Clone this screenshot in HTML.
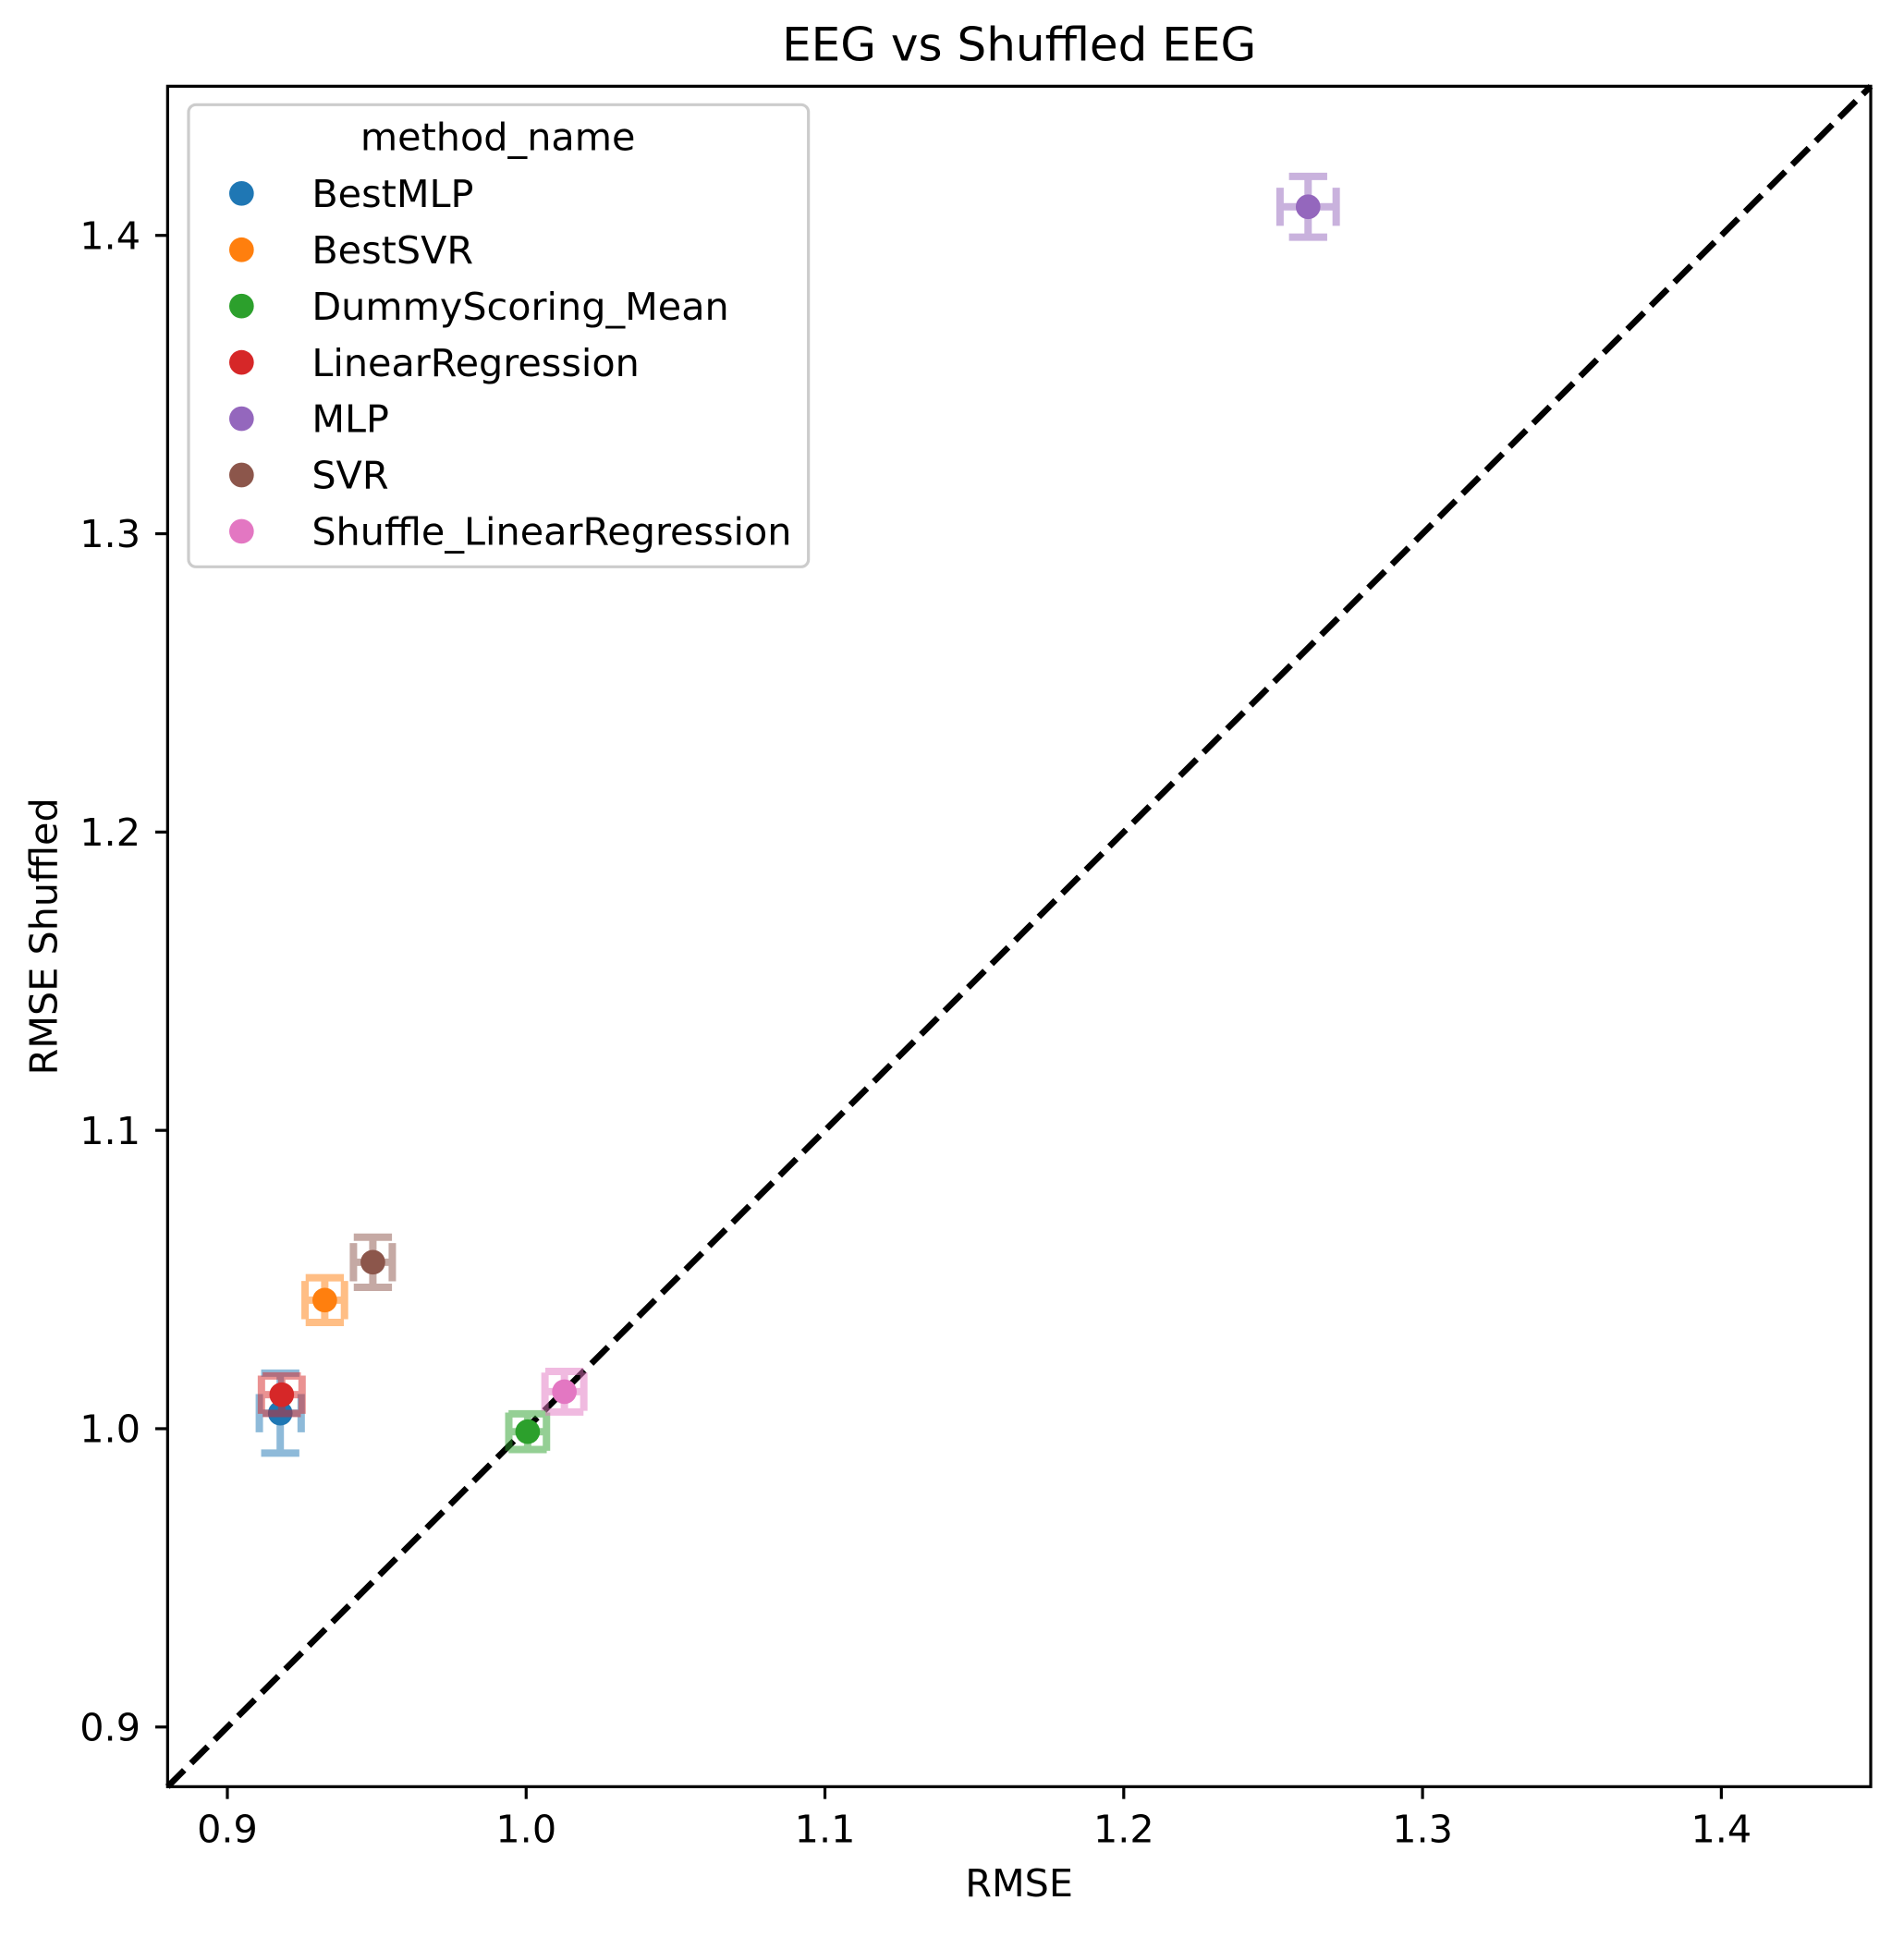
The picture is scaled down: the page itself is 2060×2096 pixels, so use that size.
<!DOCTYPE html>
<html><head><meta charset="utf-8"><style>
html,body{margin:0;padding:0;background:#fff;}
svg{display:block;font-family:"DejaVu Sans","Liberation Sans",sans-serif;}
</style></head><body>
<svg id="chart" width="2060" height="2096" viewBox="0 0 1545 1572" xmlns="http://www.w3.org/2000/svg">
<rect width="1545" height="1572" fill="#fff"/>
<text x="827" y="49" font-size="37.5" text-anchor="middle">EEG vs Shuffled EEG</text>
<g id="plot"></g>
<g id="axes"></g>
<rect x="136" y="70" width="1382" height="1380" fill="none" stroke="#000" stroke-width="2.4"/>
<text x="827" y="1539" font-size="31" text-anchor="middle">RMSE</text>
<text transform="translate(46,760) rotate(-90)" font-size="31" text-anchor="middle">RMSE Shuffled</text>
<g id="legend"></g>
</svg>
<script>
const methods = ["BestMLP","BestSVR","DummyScoring_Mean","LinearRegression","MLP","SVR","Shuffle_LinearRegression"];
const colors = ["#1f77b4","#ff7f0e","#2ca02c","#d62728","#9467bd","#8c564b","#e377c2"];
const rmse = [0.9177,0.9326,1.0005,0.9182,1.2617,0.9487,1.0128];
const rmseShuffled = [1.0052,1.0431,0.9990,1.0114,1.4096,1.0558,1.0124];
const rmseErr = [0.0070,0.0066,0.0063,0.0068,0.0094,0.0065,0.0065];
const rmseShuffledErr = [0.0134,0.0075,0.0060,0.0063,0.0102,0.0084,0.0068];
const xTicks = [0.9,1.0,1.1,1.2,1.3,1.4];
const yTicks = [0.9,1.0,1.1,1.2,1.3,1.4];
const xLim = [0.88,1.45], yLim = [0.88,1.45];

const L=136,R=1518,T=70,B=1450;
const sx = v => L + (v - xLim[0])/(xLim[1]-xLim[0])*(R-L);
const sy = v => B - (v - yLim[0])/(yLim[1]-yLim[0])*(B-T);
const NS="http://www.w3.org/2000/svg";
function mk(tag, attrs, parent){const e=document.createElementNS(NS,tag);for(const k in attrs)e.setAttribute(k,attrs[k]);parent.appendChild(e);return e;}
const plot=document.getElementById('plot'), axes=document.getElementById('axes'), legend=document.getElementById('legend');

const d = mk('line',{x1:sx(xLim[0]),y1:sy(yLim[0]),x2:sx(xLim[1]),y2:sy(yLim[1]),stroke:'#000','stroke-width':5,'stroke-dasharray':'19 8'},plot);



const cap=15.5;
methods.forEach((m,i)=>{
  const g=mk('g',{},plot);
  
  
  const cx=sx(rmse[i]), cy=sy(rmseShuffled[i]);
  const x0=sx(rmse[i]-rmseErr[i]), x1=sx(rmse[i]+rmseErr[i]);
  const y0=sy(rmseShuffled[i]-rmseShuffledErr[i]), y1=sy(rmseShuffled[i]+rmseShuffledErr[i]);
  const eg=mk('g',{stroke:colors[i],'stroke-width':6,opacity:0.5,fill:'none'},g);
  
  
  mk('line',{x1:x0,y1:cy,x2:x1,y2:cy},eg);
  mk('line',{x1:cx,y1:y0,x2:cx,y2:y1},eg);
  mk('line',{x1:x0,y1:cy-cap,x2:x0,y2:cy+cap},eg);
  mk('line',{x1:x1,y1:cy-cap,x2:x1,y2:cy+cap},eg);
  mk('line',{x1:cx-cap,y1:y0,x2:cx+cap,y2:y0},eg);
  mk('line',{x1:cx-cap,y1:y1,x2:cx+cap,y2:y1},eg);
  const c=mk('circle',{cx:cx,cy:cy,r:10,fill:colors[i]},g);
  
  
});

xTicks.forEach(v=>{
  const x=sx(v);
  const t=mk('line',{x1:x,y1:B,x2:x,y2:B+10,stroke:'#000','stroke-width':2.4},axes);
  
  
  const l=mk('text',{x:x,y:B+45,'font-size':31,'text-anchor':'middle'},axes);
  l.textContent=v.toFixed(1);
  
  
});
yTicks.forEach(v=>{
  const y=sy(v);
  const t=mk('line',{x1:L-10,y1:y,x2:L,y2:y,stroke:'#000','stroke-width':2.4},axes);
  
  
  const l=mk('text',{x:L-22,y:y+11,'font-size':31,'text-anchor':'end'},axes);
  l.textContent=v.toFixed(1);
  
  
});

const lb=mk('rect',{x:153,y:85,width:503,height:375,rx:6,fill:'#fff','fill-opacity':0.8,stroke:'#ccc','stroke-width':2.4},legend);


const lt=mk('text',{x:404,y:122,'font-size':31,'text-anchor':'middle'},legend);
lt.textContent='method_name';


methods.forEach((m,i)=>{
  const y=157+i*45.7;
  const g=mk('g',{},legend);
  
  
  mk('circle',{cx:196,cy:y,r:10,fill:colors[i]},g);
  const t=mk('text',{x:253,y:y+11,'font-size':31},g);
  t.textContent=m;
});
</script>
</body></html>
